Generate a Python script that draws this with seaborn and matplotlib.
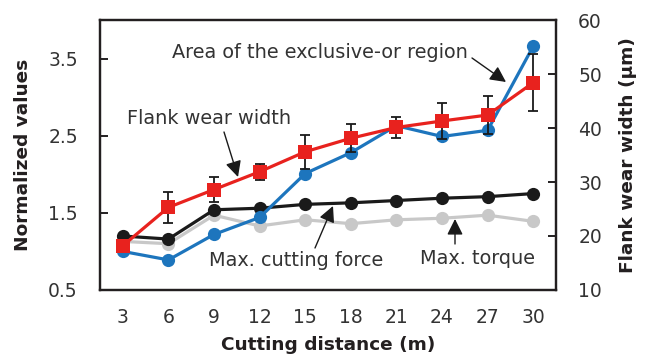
import matplotlib
matplotlib.use("Agg")
import matplotlib.pyplot as plt
import seaborn as sns
import pandas as pd

# Cutting distance (m)
distance = [3, 6, 9, 12, 15, 18, 21, 24, 27, 30]

# Normalized values (left axis)
xor_area = [1.00, 0.89, 1.22, 1.44, 2.01, 2.28, 2.63, 2.49, 2.57, 3.66]
max_force = [1.20, 1.16, 1.54, 1.56, 1.61, 1.63, 1.66, 1.69, 1.71, 1.75]
max_torque = [1.13, 1.10, 1.47, 1.33, 1.41, 1.36, 1.41, 1.43, 1.47, 1.39]

# Flank wear width in µm (right axis) with its spread
wear_width = [18.2, 25.3, 28.6, 31.9, 35.6, 38.1, 40.1, 41.3, 42.4, 48.4]
wear_err = [0.3, 2.8, 2.3, 1.5, 3.1, 2.6, 2.0, 3.4, 3.5, 5.3]

left_ticks = [0.5, 1.5, 2.5, 3.5]
right_ticks = [10, 20, 30, 40, 50, 60]

sns.set_style("white")
plt.rcParams["font.family"] = ["DejaVu Sans"]

BLUE = "#1d75bd"
RED = "#e8221e"
BLACK = "#1a1a1a"
GRAY = "#c8c8c8"
TXT = "#231f20"
LBL = "#333333"

df = pd.DataFrame({
    "distance": distance,
    "xor": xor_area,
    "force": max_force,
    "torque": max_torque,
    "wear": wear_width,
    "err": wear_err,
})

fig = plt.figure(figsize=(6.51, 3.56), dpi=100)
ax = fig.add_axes([0.1536, 0.1854, 0.7005, 0.7584])
ax2 = ax.twinx()

lw = 2.3
ms = 9.5
sns.lineplot(data=df, x="distance", y="torque", ax=ax, color=GRAY, lw=lw,
             marker="o", markersize=ms, markeredgewidth=0, zorder=2)
sns.lineplot(data=df, x="distance", y="force", ax=ax, color=BLACK, lw=lw,
             marker="o", markersize=ms, markeredgewidth=0, zorder=3)
sns.lineplot(data=df, x="distance", y="xor", ax=ax, color=BLUE, lw=lw,
             marker="o", markersize=ms, markeredgewidth=0, zorder=4)

ax2.errorbar(df["distance"], df["wear"], yerr=df["err"], fmt="none",
             ecolor=BLACK, elinewidth=1.3, capsize=3.5, capthick=1.3, zorder=1)
sns.lineplot(data=df, x="distance", y="wear", ax=ax2, color=RED, lw=lw,
             marker="s", markersize=ms, markeredgewidth=0, zorder=3)

ax.set_xlim(1.5, 31.5)
ax.set_ylim(0.5, 4.0)
ax2.set_ylim(10, 60)
ax.set_xticks(distance)
ax.set_yticks(left_ticks)
ax.set_yticklabels([f"{t:.1f}" for t in left_ticks])
ax2.set_yticks(right_ticks)

for a in (ax, ax2):
    for s in a.spines.values():
        s.set_linewidth(1.6)
        s.set_color(TXT)

FS = 13.5
ax.tick_params(axis="y", direction="in", length=6, width=1.4, colors=TXT,
               labelsize=FS, pad=16, labelcolor=LBL)
ax.tick_params(axis="x", length=0, labelsize=FS, pad=13, labelcolor=LBL)
ax2.tick_params(axis="y", direction="in", length=6, width=1.4, colors=TXT,
                labelsize=FS, pad=16, labelcolor=LBL)

ax.set_xlabel("Cutting distance (m)", fontsize=13.3, fontweight="bold",
              color=TXT)
ax.set_ylabel("Normalized values", fontsize=13.3, fontweight="bold",
              color=TXT)
ax2.set_ylabel("Flank wear width (µm)", fontsize=13.3, fontweight="bold",
               color=TXT)
ax.xaxis.set_label_coords(0.5, -0.17)
ax.yaxis.set_label_coords(-0.149, 0.5)
ax2.yaxis.set_label_coords(1.138, 0.5)

arrow = dict(arrowstyle="-|>", color=BLACK, lw=1.0, mutation_scale=24,
             shrinkA=0, shrinkB=0)
ann = dict(xycoords="figure pixels", textcoords="figure pixels",
           arrowprops=arrow)
TS = 13.9

H = 356
ax.annotate("", xy=(506, H - 82), xytext=(472, H - 58), **ann)
fig.text(172, H - 52, "Area of the exclusive-or region", transform=None,
         fontsize=TS, color=LBL, va="center", ha="left")

ax.annotate("", xy=(238, H - 177), xytext=(224, H - 132), **ann)
fig.text(127, H - 119, "Flank wear width", transform=None,
         fontsize=TS, color=LBL, va="center", ha="left")

ax.annotate("", xy=(333, H - 206), xytext=(315, H - 248), **ann)
fig.text(209, H - 261, "Max. cutting force", transform=None,
         fontsize=TS, color=LBL, va="center", ha="left")

ax.annotate("", xy=(455, H - 219), xytext=(455, H - 244), **ann)
fig.text(420, H - 258, "Max. torque", transform=None,
         fontsize=TS, color=LBL, va="center", ha="left")

fig.savefig("out.png", dpi=100)
